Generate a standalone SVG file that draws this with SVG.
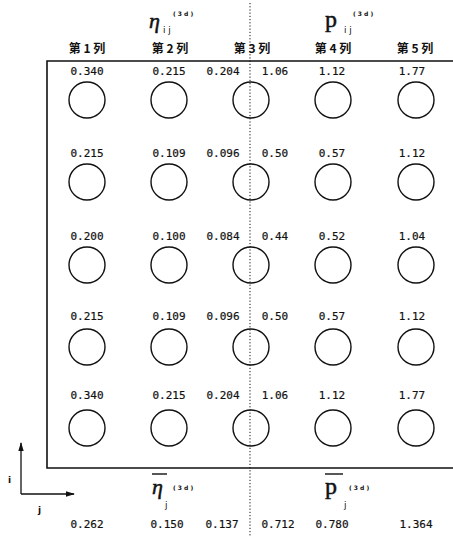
<svg xmlns="http://www.w3.org/2000/svg" width="453" height="536" viewBox="0 0 453 536">
  <style>
    .num { font-family: "DejaVu Sans Mono", "Liberation Mono", monospace; font-size: 11px; fill: #111; text-anchor: middle; stroke: #111; stroke-width: 0.2; }
    .hdr { font-family: "Noto Sans CJK SC", "Noto Sans", sans-serif; font-size: 12px; font-weight: bold; fill: #111; text-anchor: middle; }
    .sym { font-family: "Liberation Serif", "DejaVu Serif", serif; fill: #111; stroke: #111; stroke-width: 0.5; }
    .sub { font-family: "DejaVu Sans", sans-serif; font-size: 9px; fill: #111; }
    .sup { font-family: "DejaVu Sans", sans-serif; font-size: 6px; font-weight: bold; fill: #111; }
    .hole { fill: none; stroke: #111; stroke-width: 1.4; }
    .frame { fill: none; stroke: #111; stroke-width: 1.6; }
  </style>
  <defs>
    <marker id="arrow" viewBox="0 0 10 10" refX="9" refY="5" markerWidth="7" markerHeight="7" orient="auto">
      <path d="M0,2 L10,5 L0,8 z" fill="#111"/>
    </marker>
  </defs>
  <rect width="453" height="536" fill="#fff"/>

  <!-- symbol headings -->
  <g id="eta-head">
    <text class="sym" x="149" y="28" font-size="22" font-style="italic">η</text>
    <text class="sub" x="163" y="33">i j</text>
    <text class="sup" x="173" y="16">( 3 d )</text>
  </g>
  <g id="p-head">
    <text class="sym" x="325" y="27" font-size="24">p</text>
    <text class="sub" x="344" y="33">i j</text>
    <text class="sup" x="353" y="16">( 3 d )</text>
  </g>

  <!-- column headings -->
  <g id="columns">
    <text class="hdr" x="87" y="53">第 1 列</text>
    <text class="hdr" x="170" y="53">第 2 列</text>
    <text class="hdr" x="252" y="53">第 3 列</text>
    <text class="hdr" x="333" y="53">第 4 列</text>
    <text class="hdr" x="415" y="53">第 5 列</text>
  </g>

  <!-- plate frame -->
  <g id="frame">
    <path class="frame" d="M453,61 H47 V468 H453"/>
  </g>

  <!-- hole grid -->
  <g id="holes">
    <g id="row1">
      <circle class="hole" cx="87" cy="100" r="18"/>
      <circle class="hole" cx="169" cy="100" r="18"/>
      <circle class="hole" cx="251" cy="100" r="18"/>
      <circle class="hole" cx="333" cy="100" r="18"/>
      <circle class="hole" cx="416" cy="100" r="18"/>
    </g>
    <g id="row2">
      <circle class="hole" cx="87" cy="182" r="18"/>
      <circle class="hole" cx="169" cy="182" r="18"/>
      <circle class="hole" cx="251" cy="182" r="18"/>
      <circle class="hole" cx="333" cy="182" r="18"/>
      <circle class="hole" cx="416" cy="182" r="18"/>
    </g>
    <g id="row3">
      <circle class="hole" cx="87" cy="265" r="18"/>
      <circle class="hole" cx="169" cy="265" r="18"/>
      <circle class="hole" cx="251" cy="265" r="18"/>
      <circle class="hole" cx="333" cy="265" r="18"/>
      <circle class="hole" cx="416" cy="265" r="18"/>
    </g>
    <g id="row4">
      <circle class="hole" cx="87" cy="347" r="18"/>
      <circle class="hole" cx="169" cy="347" r="18"/>
      <circle class="hole" cx="251" cy="347" r="18"/>
      <circle class="hole" cx="333" cy="347" r="18"/>
      <circle class="hole" cx="416" cy="347" r="18"/>
    </g>
    <g id="row5">
      <circle class="hole" cx="87" cy="428" r="18"/>
      <circle class="hole" cx="169" cy="428" r="18"/>
      <circle class="hole" cx="251" cy="428" r="18"/>
      <circle class="hole" cx="333" cy="428" r="18"/>
      <circle class="hole" cx="416" cy="428" r="18"/>
    </g>
  </g>

  <!-- values above each hole -->
  <g id="values">
    <text class="num" x="87" y="75">0.340</text>
    <text class="num" x="169" y="75">0.215</text>
    <text class="num" x="223" y="75">0.204</text>
    <text class="num" x="275" y="75">1.06</text>
    <text class="num" x="332" y="75">1.12</text>
    <text class="num" x="412" y="75">1.77</text>

    <text class="num" x="87" y="157">0.215</text>
    <text class="num" x="169" y="157">0.109</text>
    <text class="num" x="223" y="157">0.096</text>
    <text class="num" x="275" y="157">0.50</text>
    <text class="num" x="332" y="157">0.57</text>
    <text class="num" x="412" y="157">1.12</text>

    <text class="num" x="87" y="240">0.200</text>
    <text class="num" x="169" y="240">0.100</text>
    <text class="num" x="223" y="240">0.084</text>
    <text class="num" x="275" y="240">0.44</text>
    <text class="num" x="332" y="240">0.52</text>
    <text class="num" x="412" y="240">1.04</text>

    <text class="num" x="87" y="320">0.215</text>
    <text class="num" x="169" y="320">0.109</text>
    <text class="num" x="223" y="320">0.096</text>
    <text class="num" x="275" y="320">0.50</text>
    <text class="num" x="332" y="320">0.57</text>
    <text class="num" x="412" y="320">1.12</text>

    <text class="num" x="87" y="399">0.340</text>
    <text class="num" x="169" y="399">0.215</text>
    <text class="num" x="223" y="399">0.204</text>
    <text class="num" x="275" y="399">1.06</text>
    <text class="num" x="332" y="399">1.12</text>
    <text class="num" x="412" y="399">1.77</text>
  </g>

  <!-- symmetry line and i/j axes -->
  <g id="connectors">
    <line x1="250" y1="3" x2="250" y2="536" stroke="#111" stroke-width="1" stroke-dasharray="1.2,2"/>
    <line x1="21" y1="494" x2="21" y2="443" stroke="#111" stroke-width="1.3" marker-end="url(#arrow)"/>
    <line x1="21" y1="494" x2="74" y2="494" stroke="#111" stroke-width="1.3" marker-end="url(#arrow)"/>
  </g>

  <!-- axis labels -->
  <g id="axes">
    <text class="sub" x="8" y="483" font-weight="bold">i</text>
    <text class="sub" x="38" y="513" font-weight="bold">j</text>
  </g>

  <!-- averaged symbols -->
  <g id="eta-mean">
    <line x1="152" y1="474" x2="167" y2="474" stroke="#111" stroke-width="1.4"/>
    <text class="sym" x="152" y="494" font-size="22" font-style="italic">η</text>
    <text class="sub" x="165" y="508">j</text>
    <text class="sup" x="173" y="490">( 3 d )</text>
  </g>
  <g id="p-mean">
    <line x1="325" y1="474" x2="343" y2="474" stroke="#111" stroke-width="1.4"/>
    <text class="sym" x="325" y="494" font-size="24">p</text>
    <text class="sub" x="344" y="508">j</text>
    <text class="sup" x="349" y="490">( 3 d )</text>
  </g>

  <!-- averaged values -->
  <g id="means">
    <text class="num" x="87" y="528">0.262</text>
    <text class="num" x="167" y="528">0.150</text>
    <text class="num" x="222" y="528">0.137</text>
    <text class="num" x="278" y="528">0.712</text>
    <text class="num" x="332" y="528">0.780</text>
    <text class="num" x="416" y="528">1.364</text>
  </g>
</svg>
